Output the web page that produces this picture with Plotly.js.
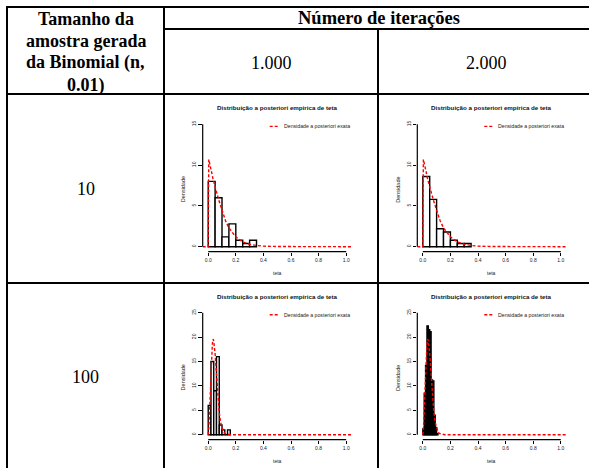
<!DOCTYPE html>
<html>
<head>
<meta charset="utf-8">
<script src="https://cdn.plot.ly/plotly-3.0.1.min.js"></script>
<style>html,body{margin:0;padding:0;background:#fff;}#chart{width:589px;height:468px;}</style>
</head>
<body>
<div id="chart"></div>
<script>
// ---------- DATA ----------
const rowLabels = ["10", "100"];
const colLabels = ["1.000", "2.000"];
const headerLeft = ["Tamanho da", "amostra gerada", "da Binomial (n,", "0.01)"];
const headerTop = "Número de iterações";
const plotTitle = "Distribuição a posteriori empírica de teta";
const legendText = "Densidade a posteriori exata";
const xLabel = "teta";
const yLabel = "Densidade";
const xTicks = [0, 0.2, 0.4, 0.6, 0.8, 1.0];
const xTickText = ["0.0", "0.2", "0.4", "0.6", "0.8", "1.0"];
const yTicksSmallN = [0, 5, 10, 15];
const yTicksLargeN = [0, 5, 10, 15, 20, 25];

// histogram n=10, 1000 iterations (bin edges left, width 0.05)
const h1Left = [0.00, 0.05, 0.10, 0.15, 0.20, 0.25, 0.30];
const h1Dens = [8.0, 6.0, 1.2, 2.8, 0.8, 0.4, 0.8];
// histogram n=10, 2000 iterations
const h2Left = [0.00, 0.05, 0.10, 0.15, 0.20, 0.25, 0.30];
const h2Dens = [8.6, 5.8, 2.2, 1.8, 0.8, 0.4, 0.4];
// histogram n=100, 1000 iterations (width 0.02)
const h3Left = [0.00, 0.02, 0.04, 0.06, 0.08, 0.10, 0.12, 0.14];
const h3Dens = [6, 15, 9, 16, 2, 1, 0, 1];
// histogram n=100, 2000 iterations (width 0.01)
const h4Left = [0.00, 0.01, 0.02, 0.03, 0.04, 0.05, 0.06, 0.07, 0.08, 0.09, 0.10];
const h4Dens = [1.2, 8.5, 14.2, 22.3, 21.5, 21.1, 11.2, 11.0, 4.0, 1.5, 0.2];

// exact posterior density, n=10
const d10x = [-0.04, 0, 0.004, 0.015, 0.025, 0.036, 0.05, 0.075, 0.1, 0.125, 0.15, 0.175, 0.2, 0.25, 0.3, 0.35, 0.4, 0.5, 0.6, 1.04];
const d10y = [0, 0, 10.7, 10.0, 9.1, 8.2, 7.3, 5.8, 4.5, 3.2, 2.3, 1.7, 1.2, 0.6, 0.3, 0.15, 0.07, 0.02, 0, 0];
// exact posterior density, n=100
const d100x = [0, 0.005, 0.01, 0.02, 0.03, 0.035, 0.04, 0.05, 0.06, 0.07, 0.08, 0.09, 0.1, 0.11, 0.12, 0.14, 0.16, 1.04];
const d100y = [0, 1.5, 5, 13, 18.6, 19.6, 19.2, 16.5, 12, 7.8, 4.6, 2.5, 1.2, 0.6, 0.25, 0.05, 0, 0];

// ---------- LAYOUT HELPERS ----------
const W = 589, H = 468;
const fx = p => p / W;
const fy = p => 1 - p / H;

const panels = [
  {left: h1Left, dens: h1Dens, bw: 0.05, cx: d10x, cy: d10y, yt: yTicksSmallN, yr: [-0.6, 15.6], px: [202.7, 351.7], py: [251.6, 119.4], fill: "white"},
  {left: h2Left, dens: h2Dens, bw: 0.05, cx: d10x, cy: d10y, yt: yTicksSmallN, yr: [-0.6, 15.6], px: [417.3, 566.3], py: [251.6, 119.4], fill: "white"},
  {left: h3Left, dens: h3Dens, bw: 0.02, cx: d100x, cy: d100y, yt: yTicksLargeN, yr: [-1, 26], px: [202.7, 351.7], py: [439.6, 307.8], fill: "white"},
  {left: h4Left, dens: h4Dens, bw: 0.01, cx: d100x, cy: d100y, yt: yTicksLargeN, yr: [-1, 26], px: [417.3, 566.3], py: [439.6, 307.8], fill: "#222"}
];

const SANS = "Liberation Sans, Arial, sans-serif";
const SERIF = "Liberation Serif, Times New Roman, serif";

const data = [];
const layout = {
  width: W, height: H,
  margin: {l: 0, r: 0, t: 0, b: 0},
  paper_bgcolor: "white", plot_bgcolor: "rgba(0,0,0,0)",
  showlegend: false, barmode: "overlay", bargap: 0,
  shapes: [], annotations: []
};

panels.forEach((p, i) => {
  const k = i === 0 ? "" : String(i + 1);
  const xa = "x" + k, ya = "y" + k;
  data.push({
    type: "bar", xaxis: xa, yaxis: ya,
    x: p.left.map(v => v + p.bw / 2), y: p.dens,
    width: p.left.map(() => p.bw),
    marker: {color: p.fill, line: {color: "black", width: 1.4}},
    hoverinfo: "skip"
  });
  data.push({
    type: "scatter", mode: "lines", xaxis: xa, yaxis: ya,
    x: p.cx, y: p.cy,
    line: {color: "#ff0000", width: 1.4, dash: "3px,2px"},
    hoverinfo: "skip", cliponaxis: false
  });
  layout["xaxis" + k] = {
    domain: [fx(p.px[0]), fx(p.px[1])], range: [-0.04, 1.04], anchor: ya,
    tickvals: xTicks, ticktext: xTickText, ticks: "outside", ticklen: 3.5, tickwidth: 1, tickcolor: "black",
    showgrid: false, zeroline: false, showline: false,
    tickfont: {family: SANS, size: 5, color: "#222"}, fixedrange: true
  };
  layout["yaxis" + k] = {
    domain: [fy(p.py[0]), fy(p.py[1])], range: p.yr, anchor: xa,
    tickvals: p.yt, ticks: "outside", ticklen: 3.5, tickwidth: 1, tickcolor: "black", tickangle: -90,
    showgrid: false, zeroline: false, showline: false,
    tickfont: {family: SANS, size: 5, color: "#222"}, fixedrange: true
  };
  // R-style axis lines
  layout.shapes.push({type: "line", xref: xa, yref: ya + " domain", x0: 0, x1: 1, y0: 0, y1: 0, line: {color: "black", width: 1.2}});
  layout.shapes.push({type: "line", xref: xa + " domain", yref: ya, x0: 0, x1: 0, y0: p.yt[0], y1: p.yt[p.yt.length - 1], line: {color: "black", width: 1.2}});
  // title
  const cxp = (p.px[0] + p.px[1]) / 2;
  layout.annotations.push({text: "<b>" + plotTitle + "</b>", xref: "paper", yref: "paper", x: fx(cxp), y: fy(p.py[1] - 11.5), showarrow: false, xanchor: "center", yanchor: "middle", font: {family: SANS, size: 6.2, color: "#111"}});
  // x label
  layout.annotations.push({text: xLabel, xref: "paper", yref: "paper", x: fx(cxp), y: fy(p.py[0] + 21.5), showarrow: false, xanchor: "center", yanchor: "middle", font: {family: SANS, size: 5, color: "#222"}});
  // y label
  layout.annotations.push({text: yLabel, xref: "paper", yref: "paper", x: fx(p.px[0] - 20), y: fy((p.py[0] + p.py[1]) / 2 + 4), showarrow: false, textangle: -90, xanchor: "center", yanchor: "middle", font: {family: SANS, size: 5.5, color: "#222"}});
  // legend
  const ly = p.py[1] + 7;
  layout.shapes.push({type: "line", xref: "paper", yref: "paper", x0: fx(p.px[1] - 82), x1: fx(p.px[1] - 72), y0: fy(ly), y1: fy(ly), line: {color: "#ff0000", width: 1.4, dash: "3px,2px"}});
  layout.annotations.push({text: legendText, xref: "paper", yref: "paper", x: fx(p.px[1] - 70), y: fy(ly), showarrow: false, xanchor: "left", yanchor: "middle", font: {family: SANS, size: 5.2, color: "#222"}});
});

// ---------- TABLE ----------
const tl = (x0, y0, x1, y1) => ({type: "line", xref: "paper", yref: "paper", x0: fx(x0), y0: fy(y0), x1: fx(x1), y1: fy(y1), line: {color: "black", width: 2}});
layout.shapes.push(tl(7, 7, 589, 7));
layout.shapes.push(tl(164, 29, 589, 29));
layout.shapes.push(tl(7, 94, 589, 94));
layout.shapes.push(tl(7, 283, 589, 283));
layout.shapes.push(tl(7, 6, 7, 468));
layout.shapes.push(tl(164, 6, 164, 468));
layout.shapes.push(tl(378, 29, 378, 468));

const ta = (txt, x, y, size, bold) => ({text: bold ? "<b>" + txt + "</b>" : txt, xref: "paper", yref: "paper", x: fx(x), y: fy(y), showarrow: false, xanchor: "center", yanchor: "middle", font: {family: SERIF, size: size, color: "black"}});
headerLeft.forEach((t, i) => layout.annotations.push(ta(t, 85.5, 19 + i * 22, 18, true)));
layout.annotations.push(ta(headerTop, 379, 18, 18.5, true));
layout.annotations.push(ta(colLabels[0], 271, 63, 18, false));
layout.annotations.push(ta(colLabels[1], 486, 63, 18, false));
layout.annotations.push(ta(rowLabels[0], 85.5, 189, 18, false));
layout.annotations.push(ta(rowLabels[1], 85.5, 377, 18, false));

Plotly.newPlot("chart", data, layout, {staticPlot: true, displayModeBar: false});
</script>
</body>
</html>
